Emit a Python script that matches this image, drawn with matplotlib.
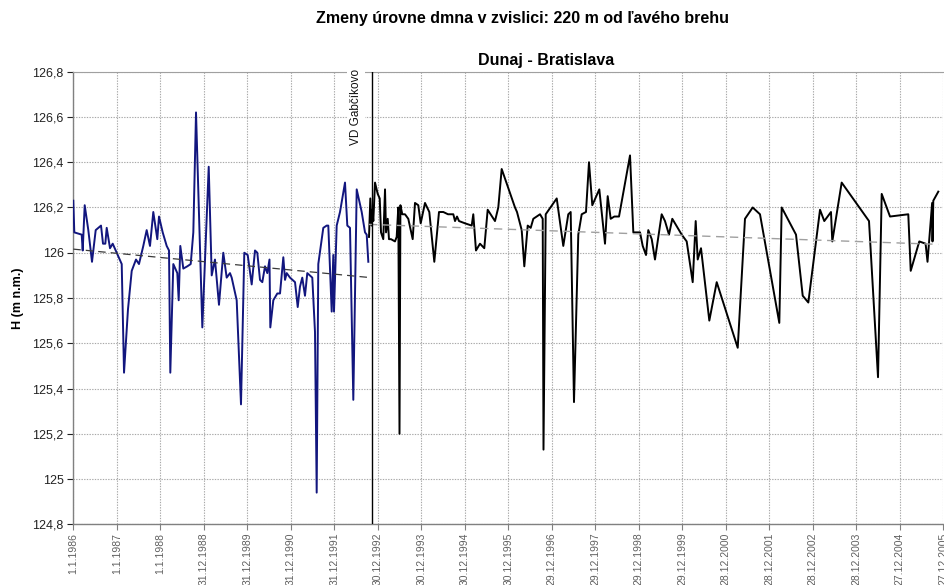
import numpy as np
import matplotlib
matplotlib.use("Agg")
import matplotlib.pyplot as plt
from matplotlib.ticker import FixedLocator, FuncFormatter

plt.rcParams['font.family'] = ['Liberation Sans', 'DejaVu Sans']

title = "Zmeny úrovne dmna v zvislici: 220 m od ľavého brehu"
subtitle = "Dunaj - Bratislava"
ylabel = "H (m n.m.)"
event_label = "VD Gabčíkovo"

tick_labels = ["1.1.1986", "1.1.1987", "1.1.1988", "31.12.1988", "31.12.1989",
               "31.12.1990", "31.12.1991", "30.12.1992", "30.12.1993", "30.12.1994",
               "30.12.1995", "29.12.1996", "29.12.1997", "29.12.1998", "29.12.1999",
               "28.12.2000", "28.12.2001", "28.12.2002", "28.12.2003", "27.12.2004",
               "27.12.2005"]

# time in "axis years" (365-day steps) since 1.1.1986
pre_t = [0.00, 0.023, 0.193, 0.216, 0.262, 0.345, 0.43, 0.515, 0.637, 0.683, 0.736, 0.768,
         0.844, 0.906, 0.998, 1.113, 1.166, 1.257, 1.343, 1.441, 1.51, 1.609, 1.687, 1.763,
         1.839, 1.931, 1.97, 2.055, 2.147, 2.2, 2.23, 2.299, 2.391, 2.423, 2.46, 2.529,
         2.621, 2.699, 2.759, 2.821, 2.966, 3.113, 3.182, 3.257, 3.349, 3.448, 3.526, 3.602,
         3.641, 3.756, 3.855, 3.931, 4.009, 4.101, 4.177, 4.23, 4.292, 4.345, 4.407, 4.46,
         4.51, 4.529, 4.598, 4.69, 4.752, 4.828, 4.867, 4.906, 4.982, 5.097, 5.159, 5.211,
         5.264, 5.326, 5.379, 5.494, 5.556, 5.595, 5.632, 5.747, 5.825, 5.862, 5.94, 5.977,
         5.993, 6.055, 6.131, 6.246, 6.299, 6.361, 6.437, 6.515, 6.63, 6.706, 6.745, 6.782]
pre_h = [126.23, 126.09, 126.08, 126.01, 126.21, 126.10, 125.96, 126.10, 126.12, 126.04, 126.04, 126.11,
         126.02, 126.04, 126.00, 125.95, 125.47, 125.75, 125.92, 125.97, 125.95, 126.03, 126.10, 126.03,
         126.18, 126.06, 126.16, 126.09, 126.03, 126.01, 125.47, 125.95, 125.91, 125.79, 126.03, 125.93,
         125.94, 125.95, 126.09, 126.62, 125.67, 126.38, 125.90, 125.97, 125.77, 126.00, 125.89, 125.91,
         125.89, 125.79, 125.33, 126.00, 125.99, 125.86, 126.01, 126.00, 125.88, 125.87, 125.94, 125.91,
         125.97, 125.67, 125.79, 125.82, 125.82, 125.98, 125.88, 125.91, 125.89, 125.87, 125.76, 125.85,
         125.89, 125.81, 125.91, 125.89, 125.65, 124.94, 125.95, 126.11, 126.12, 126.12, 125.74, 125.99,
         125.74, 126.12, 126.18, 126.31, 126.12, 126.11, 125.35, 126.28, 126.18, 126.09, 126.08, 125.96]

post_t = [6.798, 6.828, 6.86, 6.874, 6.897, 6.936, 6.998, 7.044, 7.074, 7.126, 7.166, 7.189,
          7.228, 7.257, 7.303, 7.395, 7.434, 7.471, 7.499, 7.52, 7.563, 7.625, 7.701, 7.802,
          7.855, 7.931, 7.986, 8.085, 8.184, 8.299, 8.407, 8.506, 8.614, 8.736, 8.775, 8.821,
          8.867, 9.005, 9.159, 9.195, 9.257, 9.349, 9.448, 9.526, 9.694, 9.77, 9.848, 10.154,
          10.2, 10.308, 10.368, 10.446, 10.515, 10.575, 10.729, 10.791, 10.809, 10.86, 11.113, 11.264,
          11.379, 11.434, 11.51, 11.609, 11.687, 11.786, 11.855, 11.931, 12.092, 12.223, 12.285, 12.354,
          12.437, 12.545, 12.798, 12.874, 13.028, 13.09, 13.166, 13.218, 13.297, 13.372, 13.526, 13.602,
          13.694, 13.77, 13.986, 14.101, 14.239, 14.308, 14.354, 14.43, 14.621, 14.791, 15.274, 15.441,
          15.618, 15.786, 16.23, 16.285, 16.614, 16.768, 16.897, 17.166, 17.264, 17.418, 17.448, 17.664,
          18.292, 18.499, 18.584, 18.775, 19.195, 19.251, 19.448, 19.593, 19.637, 19.743, 19.752, 19.77,
          19.885]
post_h = [126.07, 126.24, 126.12, 126.19, 126.14, 126.31, 126.26, 126.24, 126.09, 126.06, 126.28, 126.09,
          126.15, 126.06, 126.06, 126.05, 126.07, 126.20, 125.20, 126.21, 126.17, 126.17, 126.15, 126.06,
          126.22, 126.21, 126.13, 126.22, 126.18, 125.96, 126.18, 126.18, 126.17, 126.17, 126.14, 126.16,
          126.14, 126.13, 126.12, 126.17, 126.01, 126.04, 126.02, 126.19, 126.14, 126.20, 126.37, 126.20,
          126.18, 126.10, 125.94, 126.12, 126.11, 126.15, 126.17, 126.15, 125.13, 126.17, 126.24, 126.03,
          126.17, 126.18, 125.34, 126.08, 126.17, 126.18, 126.40, 126.21, 126.28, 126.04, 126.25, 126.15,
          126.16, 126.16, 126.43, 126.09, 126.09, 126.03, 125.99, 126.10, 126.06, 125.97, 126.17, 126.14,
          126.08, 126.15, 126.08, 126.05, 125.87, 126.14, 125.97, 126.02, 125.70, 125.87, 125.58, 126.15,
          126.20, 126.17, 125.69, 126.20, 126.08, 125.81, 125.78, 126.19, 126.14, 126.18, 126.05, 126.31,
          126.14, 125.45, 126.26, 126.16, 126.17, 125.92, 126.05, 126.04, 125.96, 126.22, 126.05, 126.23,
          126.27]

event_t = 6.86

DAYS = 365.0
pre_x = np.array(pre_t) * DAYS
post_x = np.array(post_t) * DAYS
event_x = event_t * DAYS
tick_x = np.arange(len(tick_labels)) * DAYS

fig = plt.figure(figsize=(9.45, 5.85), dpi=100)
ax = fig.add_axes([73.3 / 945, 1 - 524.3 / 585, 870 / 945, 452.6 / 585])

grid_c = "#a8a8a8"
ax.set_xlim(tick_x[0], tick_x[-1])
ax.set_ylim(124.8, 126.8)
ax.xaxis.set_major_locator(FixedLocator(tick_x))
ax.set_xticklabels(tick_labels, rotation=90, fontsize=7.5, color="#606060")
ax.yaxis.set_major_locator(FixedLocator(np.round(np.arange(124.8, 126.81, 0.2), 1)))
ax.yaxis.set_major_formatter(FuncFormatter(lambda v, p: ("%g" % round(v, 1)).replace(".", ",")))
ax.tick_params(axis="y", labelsize=9, colors="#222222", length=4, width=0.8, pad=3)
ax.tick_params(axis="x", length=4, width=0.8, pad=2, colors="#808080", labelcolor="#606060")
ax.grid(True, which="major", color=grid_c, linestyle=(0, (1.2, 1.2)), linewidth=0.8)
ax.set_axisbelow(True)
for s in ["left", "bottom"]:
    ax.spines[s].set_color("#808080")
    ax.spines[s].set_linewidth(1.0)
ax.spines["top"].set_color("#a0a0a0")
ax.spines["top"].set_linewidth(0.8)
ax.spines["right"].set_visible(False)

# data lines
ax.plot(pre_x, pre_h, color="#12167e", lw=1.4, zorder=3)
ax.plot(post_x, post_h, color="#000000", lw=1.4, zorder=3)

# linear trends
cp = np.polyfit(pre_x, pre_h, 1)
xp = np.array([pre_x[0], pre_x[-1]])
ax.plot(xp, np.polyval(cp, xp), color="#3a3a3a", lw=0.9, ls=(0, (6, 4)), zorder=4)
cq = np.polyfit(post_x, post_h, 1)
xq = np.array([post_x[0], post_x[-1]])
ax.plot(xq, np.polyval(cq, xq), color="#a0a0a0", lw=1.0, ls=(0, (6, 4)), zorder=4)

# dam event line
ax.axvline(event_x, color="#000000", lw=1.0, zorder=5)
ax.annotate(event_label, xy=(event_x, 1.0), xycoords=("data", "axes fraction"),
            xytext=(-11.5, 2), textcoords="offset points", rotation=90,
            ha="center", va="top", fontsize=8.5, color="#111111", annotation_clip=False,
            bbox=dict(boxstyle="square,pad=0.25", fc="white", ec="none"), zorder=6)

ax.set_ylabel(ylabel, fontsize=9, fontweight="bold", labelpad=6)
fig.text(0.553, 1 - 18 / 585, title, ha="center", va="center", fontsize=11.5, fontweight="bold")
fig.text(0.578, 1 - 60 / 585, subtitle, ha="center", va="center", fontsize=11.5, fontweight="bold")

fig.savefig("out.png", dpi=100)
